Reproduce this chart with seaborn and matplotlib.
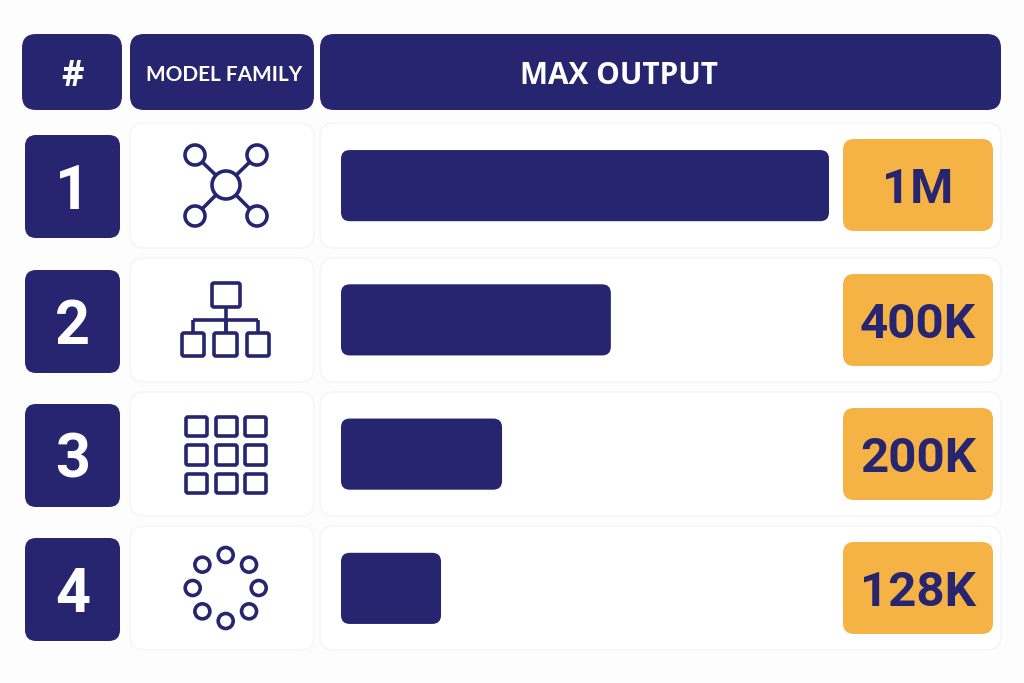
import matplotlib
matplotlib.use("Agg")
import matplotlib.pyplot as plt
from matplotlib.patches import FancyBboxPatch, Circle
import numpy as np
import pandas as pd
import seaborn as sns

ranks = ["1", "2", "3", "4"]
max_output = ["1M", "400K", "200K", "128K"]
# bar length as drawn in the picture, % of the longest bar
bar_length = [100, 55.3, 33, 20.5]
headers = ["#", "MODEL FAMILY", "MAX OUTPUT"]

NAVY = "#27256f"
AMBER = "#f5b345"
BORDER = "#f6f6f9"
LW = 2.6

sns.set_theme(style="white")
plt.rcParams["font.family"] = ["Open Sans", "DejaVu Sans"]

fig = plt.figure(figsize=(10.24, 6.83), dpi=100, facecolor="#fdfdfe")
# pixel canvas for the table furniture
ax = fig.add_axes([0, 0, 1, 1])
ax.set_xlim(0, 1024)
ax.set_ylim(683, 0)
ax.axis("off")


def box(x0, y0, x1, y1, color, r=12, edge="none", z=2, lw=1.2):
    ax.add_patch(FancyBboxPatch((x0, y0), x1 - x0, y1 - y0,
                                boxstyle=f"round,pad=0,rounding_size={r}",
                                fc=color, ec=edge, lw=lw, zorder=z))


def ring(x, y, r, lw=LW):
    ax.add_patch(Circle((x, y), r, fc="white", ec=NAVY, lw=lw, zorder=5))


def square(x0, y0, x1, y1):
    box(x0, y0, x1, y1, "white", r=2, edge=NAVY, z=5, lw=LW)


def seg(xs, ys, lw=LW):
    ax.plot(xs, ys, color=NAVY, lw=lw, zorder=4, solid_capstyle="butt")


# header row
box(22, 34, 122, 110, NAVY, r=14)
box(130, 34, 314, 110, NAVY, r=14)
box(320, 34, 1001, 110, NAVY, r=14)
ax.text(72, 72, headers[0], color="white", fontsize=25, fontweight="bold",
        ha="center", va="center_baseline")
ax.text(224, 73, headers[1], color="white", fontsize=15, fontweight="bold",
        ha="center", va="center_baseline", family=["Lato", "Open Sans"])
ax.text(619, 73, headers[2], color="white", fontsize=21.4, fontweight="bold",
        ha="center", va="center_baseline")

# rows
card_top = [123, 258, 392, 526]
card_bot = [248, 382, 516, 650]
rank_top = [135, 270, 404, 538]
amber_top = [139, 274, 408, 542]
row_mid = [186, 321, 455, 589]

for i in range(4):
    box(130, card_top[i], 314, card_bot[i], "white", r=14, edge=BORDER, z=1)
    box(320, card_top[i], 1001, card_bot[i], "white", r=14, edge=BORDER, z=1)
    box(25, rank_top[i], 120, rank_top[i] + 103, NAVY, r=11)
    box(843, amber_top[i], 993, amber_top[i] + 92, AMBER, r=11)
    ax.text(72.5, row_mid[i], ranks[i], color="white", fontsize=44, fontweight="bold",
            ha="center", va="center_baseline", family=["Roboto", "Open Sans"])
    ax.text(918, row_mid[i] - 1, max_output[i], color=NAVY, fontsize=35.5, fontweight="bold",
            ha="center", va="center_baseline", zorder=4, family=["Roboto", "Open Sans"])

# icon 1: hub with four nodes
for x, y in [(195, 155), (257, 155), (195, 216), (257, 216)]:
    seg([226, x], [185, y])
    ring(x, y, 10)
ring(226, 185, 14)

# icon 2: org tree
square(212, 283, 240, 307)
seg([226, 226], [307, 333])
seg([193, 258], [320, 320])
for x0, x1 in [(182, 204), (214, 237), (247, 269)]:
    seg([(x0 + x1) / 2] * 2, [320, 333])
    square(x0, 333, x1, 356)

# icon 3: grid
for x0, x1 in [(186, 207), (216, 237), (245, 266)]:
    for y0, y1 in [(417, 436), (445, 465), (474, 493)]:
        square(x0, y0, x1, y1)

# icon 4: ring of dots
for a in np.deg2rad(np.arange(0, 360, 45)):
    ring(225.7 + 33 * np.cos(a), 588 + 33 * np.sin(a), 7.5)

# the bars, in their own axes
df = pd.DataFrame({"rank": ranks, "length": bar_length})
bar_ax = fig.add_axes([341 / 1024, 1 - 655.5 / 683, 488 / 1024, 537 / 683])
bar_ax.patch.set_alpha(0)
sns.barplot(data=df, x="length", y="rank", color=NAVY, width=0.53, ax=bar_ax, saturation=1)
bar_ax.set_xlim(0, 100)
bar_ax.set_ylim(3.5, -0.5)
bar_ax.axis("off")
aspect = 4.88 / (537 / 4)
for p in list(bar_ax.patches):
    p.set_visible(False)
    bar_ax.add_patch(FancyBboxPatch((p.get_x(), p.get_y()), p.get_width(), p.get_height(),
                                    boxstyle="round,pad=0,rounding_size=1.8",
                                    mutation_aspect=aspect, fc=NAVY, ec="none"))

fig.savefig("out.png", dpi=100, facecolor=fig.get_facecolor())
